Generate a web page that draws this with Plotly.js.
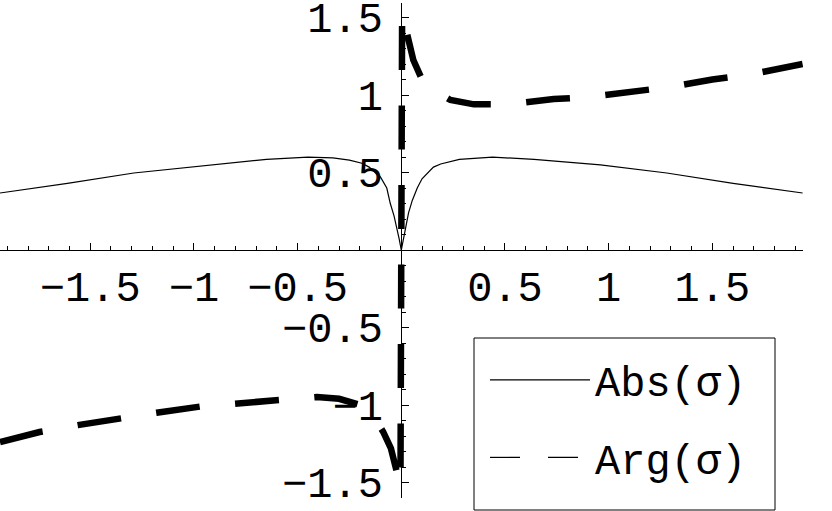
<!DOCTYPE html>
<html>
<head>
<meta charset="utf-8">
<script src="https://cdn.plot.ly/plotly-3.0.1.min.js"></script>
<style>
html,body{margin:0;padding:0;background:#fff;}
#chart{width:832px;height:511px;}
</style>
</head>
<body>
<div id="chart"></div>
<script>
// Abs(sigma) samples
const absX = [-1.935, -1.61, -1.29, -0.97, -0.65, -0.45, -0.33, -0.25, -0.19, -0.155, -0.10, -0.07, -0.053, -0.035, -0.02, -0.01, 0,
              0.01, 0.02, 0.035, 0.053, 0.077, 0.10, 0.155, 0.19, 0.28, 0.44, 0.64, 0.96, 1.28, 1.60, 1.935];
const absY = [0.368, 0.43, 0.497, 0.54, 0.585, 0.60, 0.595, 0.58, 0.56, 0.535, 0.47, 0.40, 0.30, 0.22, 0.14, 0.07, 0.0,
              0.07, 0.14, 0.24, 0.32, 0.40, 0.46, 0.535, 0.555, 0.585, 0.60, 0.585, 0.55, 0.497, 0.43, 0.368];

// Arg(sigma) samples
const argX = [-1.935, -1.744, -1.56, -1.35, -1.18, -0.97, -0.79, -0.585, -0.406, -0.30, -0.198, -0.14, -0.087, -0.05, -0.02, -0.004,
              0.004, 0.012, 0.025, 0.058, 0.10, 0.14, 0.237, 0.35, 0.517, 0.735, 0.90, 1.12, 1.285, 1.50, 1.67, 1.935];
const argY = [-1.24, -1.174, -1.13, -1.08, -1.05, -1.01, -0.99, -0.968, -0.948, -0.96, -1.0, -1.06, -1.174, -1.28, -1.44, -1.525,
              1.53, 1.48, 1.40, 1.226, 1.10, 1.045, 0.968, 0.94, 0.94, 0.974, 0.987, 1.02, 1.05, 1.10, 1.13, 1.20];

const seriesNames = ["Abs(σ)", "Arg(σ)"];

const xTickVals = [-1.5, -1, -0.5, 0.5, 1, 1.5];
const xTickText = ["−1.5", "−1", "−0.5", "0.5", "1", "1.5"];
const yTickVals = [-1.5, -1, -0.5, 0.5, 1, 1.5];
const yTickText = ["−1.5", "−1", "−0.5", "0.5", "1", "1.5"];

const xRange = [-1.935, 1.937];
const yRange = [-1.6, 1.594];

const FONT = "Liberation Mono, Courier New, monospace";

const traces = [
  {x: absX, y: absY, mode: "lines", line: {color: "black", width: 1.2}, showlegend: false, hoverinfo: "skip"},
  {x: argX, y: argY, mode: "lines", line: {color: "black", width: 6.5, dash: "44px,35.5px"}, showlegend: false, hoverinfo: "skip"},
  {x: [null], y: [null], mode: "lines", name: seriesNames[0], legendgroup: "a", line: {color: "black", width: 1.2}},
  {x: [null], y: [null], mode: "lines", name: seriesNames[1], legendgroup: "b", line: {color: "black", width: 1.2, dash: "30px,28px"}}
];

const axisCommon = {
  showgrid: false, zeroline: false, showline: true, linecolor: "black", linewidth: 1,
  ticks: "inside", ticklen: 7, tickwidth: 1, tickcolor: "black",
  tickmode: "array", ticklabeloverflow: "allow",
  minor: {ticks: "inside", ticklen: 4, tickwidth: 1, tickcolor: "black", tickmode: "linear", tick0: 0, dtick: 0.1},
  tickfont: {family: FONT, size: 42, color: "black"},
  fixedrange: true, anchor: "free"
};

// plot area in pixels: x 0..803, y 3..498
const PW = 803, PT = 3, PH = 495;
const px = v => v / PW;
const py = v => (PT + PH - v) / PH;

const layout = {
  width: 832, height: 511, autosize: false,
  margin: {l: 0, r: 29, t: 3, b: 13, pad: 0},
  paper_bgcolor: "white", plot_bgcolor: "white",
  xaxis: Object.assign({}, axisCommon, {
    range: xRange, tickvals: xTickVals, ticktext: xTickText,
    position: (0 - yRange[0]) / (yRange[1] - yRange[0]), side: "bottom",
    ticklabelstandoff: 0
  }),
  yaxis: Object.assign({}, axisCommon, {
    range: yRange, tickvals: yTickVals, ticktext: yTickText,
    position: (0 - xRange[0]) / (xRange[1] - xRange[0]), side: "left",
    ticklabelstandoff: 10
  }),
  showlegend: true,
  legend: {
    x: px(485), y: py(346), xanchor: "left", yanchor: "top",
    bgcolor: "rgba(0,0,0,0)", borderwidth: 0,
    font: {family: FONT, size: 42, color: "black"},
    traceorder: "grouped", tracegroupgap: 20, itemwidth: 100
  },
  shapes: [
    {type: "rect", xref: "paper", yref: "paper", x0: px(474), x1: px(775), y0: py(510), y1: py(338),
     line: {color: "black", width: 1}, fillcolor: "white", layer: "above"}
  ]
};

Plotly.newPlot("chart", traces, layout, {staticPlot: true, displayModeBar: false});
</script>
</body>
</html>
